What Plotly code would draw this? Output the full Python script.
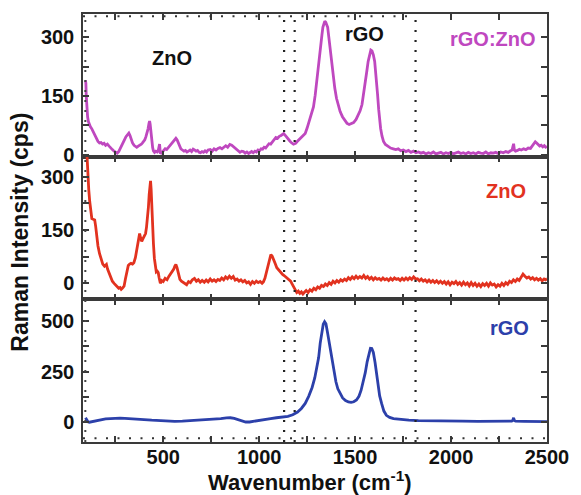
import plotly.graph_objects as go
from plotly.subplots import make_subplots

# ---------------- data ----------------
mag_x = [95, 97, 99, 102, 106, 110, 115, 120, 128, 136,
         144, 152, 160, 168, 176, 184, 192, 200, 209, 218,
         226, 235, 244, 252, 260, 268, 276, 286, 296, 306,
         314, 321, 327, 333, 340, 348, 355, 362, 370, 378,
         386, 392, 398, 404, 410, 416, 421, 426, 429, 432,
         436, 440, 445, 449, 455, 462, 469, 474, 478, 481,
         485, 490, 497, 504, 510, 518, 526, 534, 541, 548,
         555, 561, 566, 572, 578, 585, 592, 600, 608, 616,
         624, 632, 640, 648, 656, 663, 671, 679, 687, 694,
         702, 710, 718, 726, 734, 745, 755, 765, 775, 785,
         796, 806, 816, 826, 836, 847, 857, 866, 875, 883,
         892, 900, 909, 918, 927, 936, 945, 953, 961, 969,
         978, 986, 994, 1002, 1010, 1018, 1026, 1034, 1042, 1051,
         1060, 1069, 1078, 1087, 1096, 1105, 1114, 1122, 1128, 1135,
         1142, 1148, 1153, 1160, 1167, 1173, 1179, 1185, 1190, 1197,
         1205, 1213, 1222, 1231, 1240, 1250, 1258, 1266, 1275, 1283,
         1292, 1301, 1310, 1316, 1321, 1327, 1332, 1337, 1342, 1347,
         1352, 1357, 1363, 1370, 1378, 1386, 1394, 1403, 1412, 1422,
         1434, 1446, 1458, 1469, 1480, 1492, 1505, 1516, 1526, 1536,
         1545, 1553, 1561, 1568, 1575, 1582, 1588, 1595, 1602, 1609,
         1617, 1623, 1628, 1633, 1640, 1648, 1658, 1670, 1685, 1699,
         1712, 1725, 1738, 1751, 1765, 1778, 1791, 1804, 1817, 1830,
         1843, 1856, 1869, 1882, 1895, 1908, 1921, 1934, 1947, 1960,
         1973, 1986, 1999, 2012, 2025, 2038, 2051, 2064, 2077, 2090,
         2103, 2116, 2129, 2142, 2155, 2168, 2181, 2194, 2207, 2220,
         2233, 2246, 2259, 2272, 2285, 2298, 2310, 2318, 2322, 2326,
         2330, 2336, 2346, 2356, 2366, 2378, 2390, 2402, 2414, 2424,
         2432, 2439, 2446, 2454, 2462, 2470, 2478, 2486, 2493, 2500]
mag_y = [190, 182, 150, 120, 96, 85, 76, 72, 66, 58,
         48, 40, 34, 30, 31, 27, 29, 24, 27, 22,
         17, 13, 9, 6, 4, 8, 15, 26, 36, 46,
         52, 55, 49, 38, 30, 24, 21, 19, 22, 24,
         27, 30, 34, 38, 46, 55, 66, 80, 86, 78,
         55, 36, 18, 10, 6, 9, 7, 10, 22, 27,
         5, 4, 8, 12, 15, 13, 18, 22, 26, 30,
         35, 39, 42, 38, 30, 22, 15, 12, 9, 11,
         7, 9, 12, 8, 14, 12, 9, 11, 6, 5,
         8, 6, 10, 7, 12, 13, 9, 15, 12, 16,
         18, 15, 20, 23, 19, 26, 24, 20, 17, 13,
         10, 6, 9, 8, 4, 7, 3, 6, 8, 5,
         9, 7, 12, 10, 15, 14, 19, 17, 24, 28,
         27, 33, 38, 44, 42, 47, 49, 52, 54, 50,
         45, 41, 38, 35, 31, 29, 27, 28, 29, 33,
         37, 41, 45, 49, 54, 68, 80, 94, 110, 122,
         152, 195, 240, 265, 282, 305, 325, 338, 341, 338,
         333, 325, 300, 270, 238, 200, 170, 144, 125, 110,
         97, 88, 80, 77, 79, 82, 90, 100, 112, 128,
         155, 185, 213, 238, 258, 267, 265, 255, 238, 205,
         154, 115, 88, 67, 48, 34, 26, 21, 17, 15,
         13, 15, 10, 12, 8, 11, 6, 9, 5, 7,
         4, 6, 2, 5, 3, 7, 2, 4, 6, 2,
         5, 3, 6, 2, 4, 7, 3, 5, 2, 6,
         3, 5, 2, 6, 4, 3, 7, 2, 5, 4,
         6, 3, 7, 5, 8, 6, 10, 12, 20, 28,
         12, 9, 11, 14, 12, 15, 13, 17, 16, 22,
         29, 33, 30, 25, 22, 24, 20, 23, 19, 21]

zno_x = [97, 100, 104, 108, 112, 117, 122, 128, 135, 143,
         148, 153, 160, 168, 176, 185, 194, 199, 204, 210,
         219, 227, 235, 244, 252, 260, 268, 275, 281, 288,
         296, 303, 311, 318, 325, 332, 340, 347, 355, 362,
         368, 373, 377, 382, 388, 394, 400, 408, 413, 418,
         423, 427, 431, 434, 437, 440, 444, 449, 454, 459,
         464, 469, 474, 479, 485, 492, 500, 510, 520, 530,
         541, 548, 555, 560, 566, 572, 579, 587, 595, 604,
         612, 622, 632, 642, 652, 663, 673, 683, 693, 703,
         714, 724, 734, 745, 755, 765, 775, 785, 795, 805,
         815, 825, 835, 845, 855, 865, 875, 885, 895, 905,
         915, 925, 935, 945, 955, 965, 975, 985, 995, 1005,
         1015, 1022, 1030, 1038, 1046, 1053, 1061, 1068, 1076, 1084,
         1092, 1100, 1108, 1116, 1122, 1130, 1138, 1148, 1156, 1164,
         1170, 1176, 1182, 1189, 1196, 1204, 1212, 1220, 1228, 1236,
         1245, 1255, 1265, 1275, 1285, 1295, 1305, 1315, 1325, 1335,
         1345, 1355, 1365, 1375, 1385, 1395, 1405, 1415, 1425, 1435,
         1445, 1455, 1465, 1475, 1485, 1495, 1505, 1515, 1525, 1535,
         1545, 1555, 1565, 1575, 1585, 1595, 1605, 1615, 1625, 1635,
         1645, 1655, 1665, 1675, 1685, 1695, 1705, 1715, 1725, 1735,
         1745, 1755, 1765, 1775, 1785, 1795, 1805, 1815, 1825, 1835,
         1845, 1855, 1865, 1875, 1885, 1895, 1905, 1915, 1925, 1935,
         1945, 1955, 1965, 1975, 1985, 1995, 2005, 2015, 2025, 2035,
         2045, 2055, 2065, 2075, 2085, 2095, 2105, 2115, 2125, 2135,
         2145, 2155, 2165, 2175, 2185, 2195, 2205, 2215, 2225, 2235,
         2245, 2255, 2265, 2275, 2285, 2295, 2305, 2315, 2325, 2335,
         2345, 2355, 2365, 2375, 2385, 2395, 2405, 2415, 2425, 2435,
         2445, 2455, 2465, 2475, 2485, 2492, 2500]
zno_y = [420, 380, 330, 295, 263, 230, 200, 182, 180, 178,
         160, 132, 105, 84, 66, 54, 48, 50, 53, 40,
         28, 16, 6, 0, -5, -8, -14, -12, -17, -13,
         -8, 12, 39, 50, 54, 56, 54, 58, 72, 95,
         118, 132, 140, 128, 118, 125, 130, 140, 158, 179,
         215, 250, 278, 288, 265, 212, 160, 112, 70, 39,
         32, 34, 30, 15, 0, 8, 5, 14, 10, 20,
         28, 32, 40, 48, 53, 44, 25, 11, 6, 2,
         0, -4, 5, 2, 10, 14, 6, 10, 3, 8,
         3, 9, 4, 12, 6, 10, 5, 11, 8, 15,
         10, 18, 13, 20, 14, 19, 9, 12, 6, 10,
         4, 8, 1, 4, -3, 5, 0, 6, 2, 5,
         0, 4, 14, 30, 48, 68, 81, 76, 67, 55,
         44, 38, 32, 28, 25, 22, 18, 14, 10, 6,
         0, -6, -14, -22, -26, -22, -28, -24, -30, -25,
         -20, -26, -18, -22, -14, -18, -10, -14, -6, -9,
         -2, -6, 2, -3, 6, 1, 8, 3, 10, 6,
         12, 8, 16, 11, 18, 13, 20, 14, 19, 15,
         22, 14, 19, 12, 17, 10, 16, 11, 14, 9,
         15, 10, 13, 8, 14, 9, 15, 11, 13, 8,
         14, 9, 15, 10, 16, 11, 18, 12, 13, 7,
         12, 6, 10, 4, 9, 3, 8, 2, 7, 1,
         6, 0, 5, -2, 4, -4, 3, -1, 5, -3,
         2, -5, 3, -4, 1, -7, 2, -6, 0, -8,
         -2, -9, -1, -6, 0, -8, 1, -5, -2, -10,
         -4, -8, 0, -6, 2, -3, 6, 2, 10, 5,
         12, 8, 18, 26, 20, 15, 18, 12, 16, 10,
         14, 9, 13, 7, 12, 10, 13]

rgo_x = [95, 98, 102, 108, 115, 125, 140, 160, 180, 200,
         225, 250, 275, 300, 330, 360, 400, 440, 480, 520,
         560, 600, 640, 680, 720, 760, 800, 830, 850, 870,
         890, 910, 930, 950, 975, 1000, 1030, 1060, 1090, 1120,
         1150, 1175, 1200, 1220, 1240, 1258, 1276, 1290, 1301, 1310,
         1318, 1326, 1334, 1341, 1348, 1356, 1364, 1372, 1380, 1390,
         1400, 1410, 1422, 1435, 1450, 1465, 1479, 1493, 1507, 1520,
         1531, 1542, 1553, 1563, 1572, 1580, 1587, 1595, 1604, 1612,
         1620, 1628, 1638, 1650, 1663, 1680, 1700, 1735, 1780, 1830,
         1900, 1980, 2060, 2140, 2220, 2290, 2316, 2322, 2326, 2330,
         2336, 2380, 2440, 2500]
rgo_y = [22, 18, 8, 2, 0, 2, 5, 9, 13, 16,
         18, 20, 20, 19, 18, 16, 13, 10, 7, 5,
         4, 5, 7, 9, 12, 15, 18, 21, 22, 19,
         12, 5, 1, 1, 4, 9, 14, 18, 22, 26,
         29, 37, 50, 68, 93, 128, 172, 220, 270, 320,
         390, 445, 485, 497, 487, 445, 400, 352, 305, 245,
         200, 165, 140, 120, 107, 100, 98, 101, 110, 128,
         157, 195, 245, 300, 345, 366, 365, 345, 295, 240,
         180, 130, 93, 55, 34, 24, 18, 14, 10, 8,
         6, 5, 5, 4, 4, 4, 5, 10, 22, 8,
         5, 4, 3, 3]

marker_lines_x = [1130, 1185, 1815]          # dotted guide lines
x_range = [82, 2500]
x_tick_step = 500
y_ranges = [[-5, 359], [-45, 356], [-98, 608]]
y_tick_steps = [150, 150, 250]
panel_names = ["rGO:ZnO", "ZnO", "rGO"]
colors = ["#bf48bf", "#e2321f", "#2c40aa"]

FONT = "Liberation Sans, Arial, sans-serif"
AX = "#3a3a3a"

fig = make_subplots(rows=3, cols=1, shared_xaxes=True, vertical_spacing=0)
series = [(mag_x, mag_y), (zno_x, zno_y), (rgo_x, rgo_y)]
for i, (xs, ys) in enumerate(series):
    fig.add_trace(go.Scatter(x=xs, y=ys, mode="lines", name=panel_names[i],
                             line=dict(color=colors[i], width=2.8),
                             showlegend=False), row=i + 1, col=1)

for i in range(3):
    fig.update_xaxes(range=x_range, tick0=0, dtick=x_tick_step, ticks="inside",
                     ticklen=6, tickwidth=1.5, tickcolor=AX,
                     minor=dict(ticks="inside", dtick=x_tick_step / 2, ticklen=6,
                                tickwidth=1.5, tickcolor=AX, showgrid=False),
                     showline=True, linecolor=AX, linewidth=1.5, mirror="ticks",
                     showgrid=False, zeroline=False,
                     showticklabels=(i == 2), ticklabelstandoff=-4,
                     tickfont=dict(family=FONT, size=20, color="#111", weight="bold"),
                     row=i + 1, col=1)
    fig.update_yaxes(range=y_ranges[i], tick0=0, dtick=y_tick_steps[i], ticks="inside",
                     ticklen=6, tickwidth=1.5, tickcolor=AX,
                     minor=dict(ticks="inside", dtick=y_tick_steps[i] / 2, ticklen=6,
                                tickwidth=1.5, tickcolor=AX, showgrid=False),
                     showline=True, linecolor=AX, linewidth=1.5, mirror="ticks",
                     showgrid=False, zeroline=False, ticklabelstandoff=3,
                     tickfont=dict(family=FONT, size=20, color="#111", weight="bold"),
                     row=i + 1, col=1)

# dotted vertical guide lines spanning all panels
for xv in marker_lines_x:
    fig.add_shape(type="line", xref="x3", yref="paper", x0=xv, x1=xv, y0=0, y1=1,
                  line=dict(color="#222", width=2.2, dash="2px,8px"))
# fine dotted ticks along frame edges
fig.add_shape(type="line", xref="paper", yref="paper", x0=0, x1=1, y0=0.009, y1=0.009,
              line=dict(color="#333", width=2, dash="2px,9.5px"))
fig.add_shape(type="line", xref="paper", yref="paper", x0=0, x1=0.71, y0=0.995, y1=0.995,
              line=dict(color="#333", width=2, dash="2px,9.5px"))
fig.add_shape(type="line", xref="paper", yref="paper", x0=0.005, x1=0.005, y0=0, y1=1,
              line=dict(color="#444", width=2, dash="2px,8px"))

ann_font = dict(family=FONT, size=20, weight="bold")
fig.add_annotation(x=546, y=246, xref="x", yref="y", text="ZnO", showarrow=False,
                   font=dict(ann_font, color="#111"))
fig.add_annotation(x=1551, y=308, xref="x", yref="y", text="rGO", showarrow=False,
                   font=dict(ann_font, color="#111"))
fig.add_annotation(x=2219, y=295, xref="x", yref="y", text=panel_names[0], showarrow=False,
                   font=dict(ann_font, color=colors[0]))
fig.add_annotation(x=2286, y=260, xref="x2", yref="y2", text=panel_names[1], showarrow=False,
                   font=dict(ann_font, color=colors[1]))
fig.add_annotation(x=2306, y=466, xref="x3", yref="y3", text=panel_names[2], showarrow=False,
                   font=dict(ann_font, color=colors[2]))

fig.add_annotation(x=0.49, y=-0.09, xref="paper", yref="paper",
                   xanchor="center", yanchor="middle",
                   text="Wavenumber (cm<sup>-1</sup>)", showarrow=False,
                   font=dict(family=FONT, size=22, color="#111", weight="bold"))
fig.add_annotation(x=-0.135, y=0.49, xref="paper", yref="paper", textangle=-90,
                   xanchor="center", yanchor="middle",
                   text="Raman Intensity (cps)", showarrow=False,
                   font=dict(family=FONT, size=23, color="#111", weight="bold"))

fig.update_layout(width=581, height=495, margin=dict(l=83, r=24, t=13, b=53),
                  paper_bgcolor="white", plot_bgcolor="white")
fig.write_html("out.html")
